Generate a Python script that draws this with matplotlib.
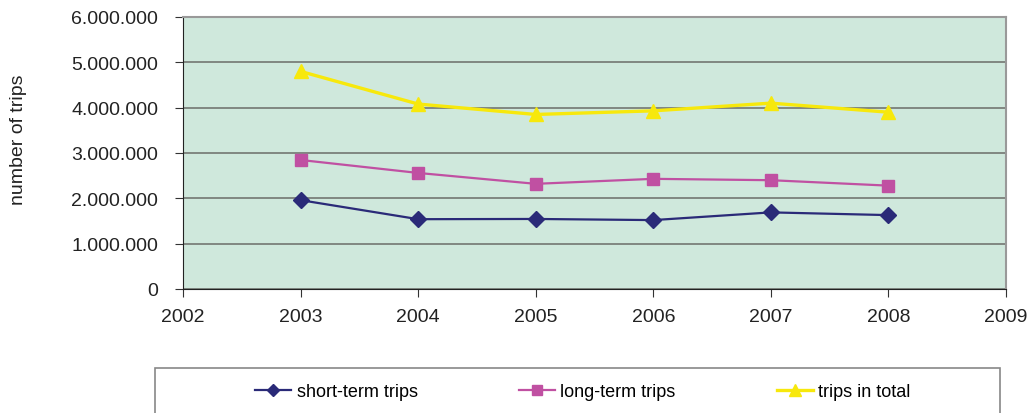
import matplotlib.pyplot as plt
from matplotlib.patches import Rectangle
from matplotlib.ticker import FuncFormatter

plt.rcParams['font.family'] = ['Liberation Sans', 'DejaVu Sans']

years = [2003, 2004, 2005, 2006, 2007, 2008]
short_term = [1960000, 1540000, 1545000, 1520000, 1690000, 1630000]
long_term = [2846000, 2560000, 2320000, 2430000, 2400000, 2280000]
total = [4800000, 4080000, 3850000, 3930000, 4100000, 3900000]

fig = plt.figure(figsize=(10.32, 4.14), dpi=100)
ax = fig.add_axes([183 / 1032, 1 - 290 / 414, 823 / 1032, 272 / 414])
ax.set_facecolor("#cfe8dc")

ax.plot(years, short_term, "-D", color="#2a2a78", lw=1.6, ms=8, label="short-term trips")
ax.plot(years, long_term, "-s", color="#c050a2", lw=1.6, ms=9, label="long-term trips")
ax.plot(years, total, "-^", color="#f7e80c", lw=2.4, ms=10, label="trips in total")

ax.set_xlim(2002, 2009)
ax.set_ylim(0, 6000000)
ax.set_xticks(range(2002, 2010))
ax.set_yticks(range(0, 6000001, 1000000))
ax.yaxis.set_major_formatter(FuncFormatter(lambda v, p: f"{int(v):,}".replace(",", ".")))
ax.grid(axis="y", color="#7a7f7a", lw=1.3)
ax.set_axisbelow(True)
ax.tick_params(labelsize=14, length=6, color="#333333", labelcolor="#222222")
ax.tick_params(axis="y", pad=12)
ax.tick_params(axis="x", pad=8)
for s in ["top", "right"]:
    ax.spines[s].set_color("#999999")
    ax.spines[s].set_linewidth(1.5)
for s in ["left", "bottom"]:
    ax.spines[s].set_color("#222222")

fig.text(19 / 1032, 1 - 140 / 414, "number of trips", rotation=90, ha="center", va="center",
         fontsize=14, color="#222222")

fig.patches.append(Rectangle((155 / 1032, -0.1), 845 / 1032, 0.1 + (414 - 369) / 414,
                             transform=fig.transFigure, fill=False, ec="#888888", lw=1.2))
fig.legend(loc="center", bbox_to_anchor=(583 / 1032, 1 - 393 / 414), ncol=3, frameon=False,
           fontsize=13, columnspacing=5.6, handlelength=2.0, handletextpad=0.3,
           markerscale=0.8)

fig.savefig("out.png", dpi=100)
